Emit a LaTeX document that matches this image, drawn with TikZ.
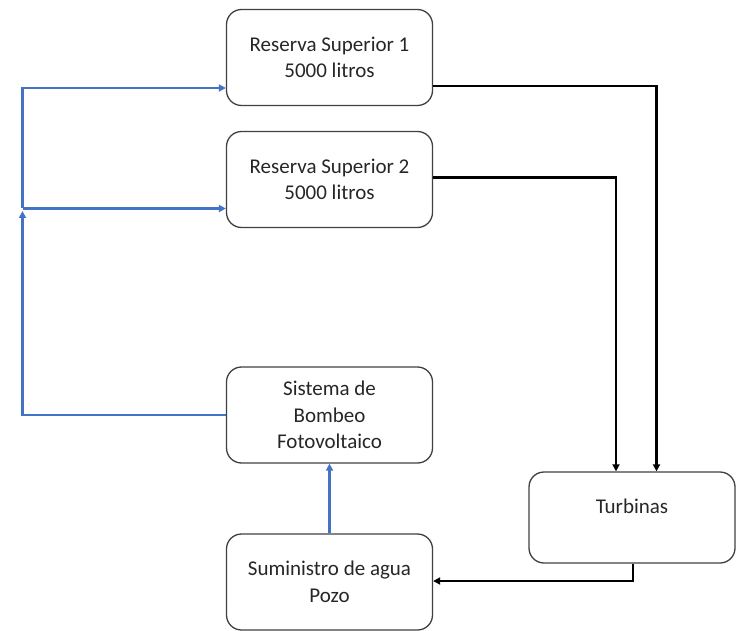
\documentclass[tikz,border=0pt]{standalone}
\usepackage{fontspec}
\setmainfont{Carlito}
\usetikzlibrary{arrows.meta}
\definecolor{bl}{HTML}{4472C4}
\definecolor{bd}{HTML}{404040}
\tikzset{
  box/.style={draw=bd, line width=1.3pt, rounded corners=15pt, minimum width=206pt, minimum height=96pt, inner sep=0pt, align=center, font=\fontsize{21}{26.5}\selectfont, text=black!85},
  blueline/.style={draw=bl, line width=2.2pt, -{Triangle[length=7pt,width=7pt]}},
  blackline/.style={draw=black, line width=2.4pt, -{Triangle[length=7pt,width=7pt]}},
}
\begin{document}
\begin{tikzpicture}[x=1pt,y=-1pt]
\useasboundingbox (0,0) rectangle (736,631);
\node[box] (rs1) at (329.5,57.5) {Reserva Superior 1\\5000 litros};
\node[box] (rs2) at (329.5,179.5) {Reserva Superior 2\\5000 litros};
\node[box] (sb) at (329.5,415) {Sistema de\\Bombeo\\Fotovoltaico};
\node[box] (sa) at (329.5,582) {Suministro de agua\\Pozo};
\node[box, minimum height=91pt] (tu) at (632,517.5) {};
\node[font=\fontsize{21}{26.5}\selectfont, text=black!85] (tut) at (632,506) {Turbinas};
\coordinate (j) at (22.5,208.5);
\coordinate (jt) at (22.5,211);
\draw[blueline] (sb.west) -| (jt);
\draw[blueline] (j) -- (rs2.west |- j);
\draw[blueline] (j) |- (rs1.west |- 0,88);
\draw[blueline] (sa.north) -- (sb.south);
\draw[blackline] (rs1.east |- 0,86) -| (tu.north -| 656.5,0);
\draw[blackline] (rs2.east |- 0,177.5) -| (tu.north -| 616,0);
\draw[blackline] (tu.south -| 633,0) |- (sa.east |- 0,581);
\end{tikzpicture}
\end{document}
